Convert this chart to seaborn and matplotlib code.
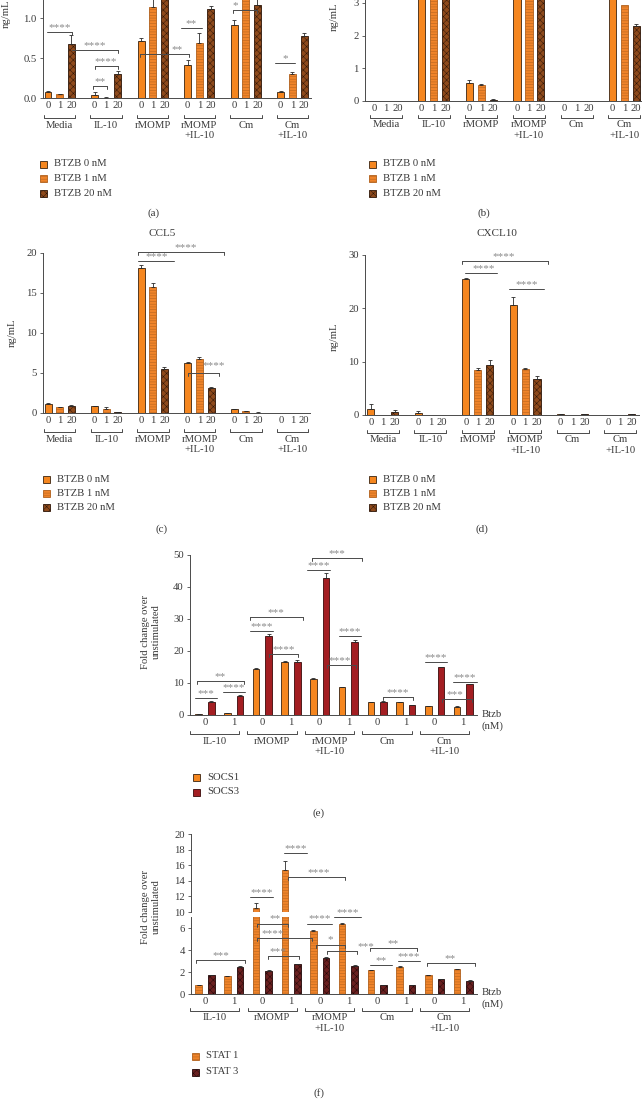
import numpy as np
import pandas as pd
import matplotlib
matplotlib.use('Agg')
import matplotlib.pyplot as plt
import matplotlib.transforms as mtransforms
from matplotlib.patches import Rectangle
import seaborn as sns

# -------------------------------
# Data
# -------------------------------
groups6 = ['Media', 'IL-10', 'rMOMP', 'rMOMP\n+IL-10', 'Cm', 'Cm\n+IL-10']
doses = ['0', '1', '20']
dose_names = ['BTZB 0 nM', 'BTZB 1 nM', 'BTZB 20 nM']

# (a) - top of panel is cropped in the original
a_0nM = [0.08, 0.04, 0.715, 0.415, 0.91, 0.075]
a_1nM = [0.045, 0.005, 1.14, 0.69, 1.35, 0.30]
a_20nM = [0.67, 0.295, 1.30, 1.11, 1.16, 0.78]
a_err0 = [0.01, 0.035, 0.03, 0.06, 0.07, 0.008]
a_err1 = [0.005, 0.005, 0.10, 0.12, 0.05, 0.03]
a_err20 = [0.12, 0.04, 0.05, 0.04, 0.10, 0.03]

# (b) - top cropped as well
b_0nM = [0.0, 5.0, 0.55, 5.2, 0.01, 3.6]
b_1nM = [0.0, 4.8, 0.48, 5.0, 0.0, 2.95]
b_20nM = [0.0, 4.6, 0.03, 4.9, 0.0, 2.28]
b_err0 = [0, 0.1, 0.1, 0.1, 0, 0.1]
b_err1 = [0, 0.1, 0.04, 0.1, 0, 0]
b_err20 = [0, 0.1, 0.02, 0.1, 0, 0.08]

# (c) CCL5
c_0nM = [1.1, 0.85, 18.1, 6.3, 0.45, 0.05]
c_1nM = [0.75, 0.55, 15.8, 6.7, 0.2, 0.05]
c_20nM = [0.85, 0.1, 5.5, 3.1, 0.05, 0.05]
c_err0 = [0.1, 0.05, 0.4, 0.1, 0.05, 0]
c_err1 = [0.05, 0.25, 0.5, 0.3, 0.03, 0]
c_err20 = [0.15, 0.05, 0.2, 0.1, 0.02, 0]

# (d) CXCL10
d_0nM = [1.2, 0.3, 25.5, 20.7, 0.15, 0.0]
d_1nM = [0.0, 0.0, 8.5, 8.7, 0.0, 0.0]
d_20nM = [0.5, 0.0, 9.4, 6.8, 0.15, 0.1]
d_err0 = [0.9, 0.4, 0.2, 1.4, 0.05, 0]
d_err1 = [0, 0, 0.3, 0.2, 0, 0]
d_err20 = [0.5, 0, 1.0, 0.5, 0.05, 0.05]

# (e) / (f)
groups5 = ['IL-10', 'rMOMP', 'rMOMP\n+IL-10', 'Cm', 'Cm\n+IL-10']
btzb = ['0', '1']
socs1 = [0.3, 0.6, 14.3, 16.7, 11.4, 8.8, 4.0, 4.0, 2.8, 2.6]
socs1_err = [0.05, 0.1, 0.3, 0.3, 0.3, 0.1, 0.1, 0.1, 0.1, 0.1]
socs3 = [4.2, 6.0, 24.7, 16.6, 42.8, 22.7, 4.2, 3.1, 14.9, 9.6]
socs3_err = [0.2, 0.2, 0.6, 0.5, 1.5, 0.6, 0.2, 0.1, 0.2, 0.2]
stat1 = [0.8, 1.6, 10.5, 15.4, 5.7, 6.4, 2.15, 2.5, 1.7, 2.25]
stat1_err = [0.05, 0.05, 0.7, 1.2, 0.15, 0.08, 0.05, 0.05, 0.05, 0.05]
stat3 = [1.7, 2.5, 2.1, 2.7, 3.3, 2.55, 0.8, 0.8, 1.35, 1.2]
stat3_err = [0.05, 0.05, 0.05, 0.05, 0.05, 0.05, 0.03, 0.03, 0.03, 0.03]

# significance marks: (x1, x2, y, label, end ticks, text x, text y)
a_sig = [(-0.1, 2.06, 0.82, '****', 'r', None, None),
         (2.06, 6.0, 0.60, '****', 'r', 4.0, None),
         (4.0, 6.0, 0.40, '****', 'lr', None, None),
         (3.86, 5.06, 0.15, '**', 'lr', None, None),
         (7.9, 12.1, 0.55, '**', 'lr', 11.1, None),
         (11.4, 13.2, 0.87, '**', '', None, None),
         (15.9, 18.0, 1.10, '*', 'lr', 16.1, None),
         (19.5, 21.2, 0.44, '*', '', None, None)]
c_sig = [(7.7, 15.1, 20.1, '****', 'lr', 11.8, None),
         (7.7, 10.8, 19.0, '****', '', 9.3, None),
         (12.0, 14.7, 5.0, '****', 'lr', 14.2, 5.4)]
d_sig = [(7.7, 14.9, 28.9, '****', 'lr', 11.2, None),
         (7.9, 10.6, 26.6, '****', '', 9.5, None),
         (11.6, 14.6, 23.6, '****', '', 13.1, None)]
e_sig = [(-0.35, 0.42, 5.3, '***', '', None, None),
         (0.63, 1.39, 7.2, '****', '', None, None),
         (-0.28, 1.36, 10.6, '**', 'lr', None, None),
         (1.57, 2.37, 26.3, '****', '', None, None),
         (1.57, 3.41, 30.6, '***', 'lr', None, None),
         (2.23, 3.24, 19.0, '****', 'lr', None, None),
         (3.55, 4.36, 45.3, '****', '', None, None),
         (3.73, 5.47, 49.0, '***', 'lr', None, None),
         (4.67, 5.44, 24.7, '****', '', None, None),
         (4.25, 5.26, 15.6, '****', 'lr', 4.7, None),
         (6.2, 7.25, 5.6, '****', 'lr', None, None),
         (7.67, 8.43, 16.6, '****', '', None, None),
         (8.64, 9.48, 10.3, '****', '', None, None),
         (8.26, 9.3, 5.0, '***', 'lr', 8.71, None)]
fu_sig = [(1.57, 2.37, 11.9, '****', '', None, None),
          (2.75, 3.55, 17.6, '****', '', None, None),
          (2.89, 4.88, 14.5, '****', 'lr', 3.97, None)]
fl_sig = [(-0.31, 1.39, 3.1, '***', 'lr', None, None),
          (1.81, 2.89, 6.4, '**', 'lr', 2.44, None),
          (1.81, 3.73, 5.1, '****', 'lr', 2.37, None),
          (2.2, 3.28, 3.45, '***', 'lr', 2.54, None),
          (3.55, 4.42, 6.4, '****', '', None, None),
          (4.49, 5.44, 7.0, '****', '', None, None),
          (3.87, 4.88, 4.5, '*', 'lr', 4.36, None),
          (4.25, 5.3, 3.9, '***', 'lr', 5.6, None),
          (5.75, 7.39, 4.2, '**', 'lr', 6.55, None),
          (5.75, 6.52, 2.6, '**', '', None, None),
          (6.72, 7.49, 3.0, '****', '', None, None),
          (7.74, 9.41, 2.8, '**', 'lr', 8.54, None)]

# -------------------------------
# Style
# -------------------------------
sns.set_style('ticks')
plt.rcParams['font.family'] = ['Liberation Serif', 'DejaVu Serif']
plt.rcParams['hatch.linewidth'] = 0.35

FS = 7.7
ORANGE = '#F5861F'
TXT = '#3a3a3a'
LINE = '#4a4a4a'
SIGC = '#8a8a8a'
dose_style = {'0': (ORANGE, '', '#3a2410'),
              '1': ('#F0842A', '------', '#B0601C'),
              '20': ('#8E4A1C', 'xxxxx', '#2e1608')}
socs_style = {'SOCS1': (ORANGE, '', '#3a2410'),
              'SOCS3': ('#A31E22', '', '#3a0a0a')}
stat_style = {'STAT 1': ('#F0842A', '------', '#B0601C'),
              'STAT 3': ('#6A2020', 'xxxxx', '#220808')}

W, H = 644, 1099
fig = plt.figure(figsize=(W / 100, H / 100), dpi=100)


def add_ax(x0, y0, x1, y1):
    return fig.add_axes([x0 / W, 1 - y1 / H, (x1 - x0) / W, (y1 - y0) / H])


def ftext(x, y, s, **kw):
    kw.setdefault('fontsize', FS)
    kw.setdefault('color', TXT)
    return fig.text(x / W, 1 - y / H, s, **kw)


def draw_bars(ax, pos, vals, errs, series, styles, bar_w):
    order = list(styles.keys())
    df = pd.DataFrame({'pos': pos, 'val': vals, 'series': series})
    step = np.min(np.diff(np.unique(df['pos'])))
    sns.barplot(data=df, x='pos', y='val', hue='series', hue_order=order,
                palette={k: styles[k][0] for k in order}, native_scale=True,
                dodge=False, width=bar_w / step, errorbar=None, saturation=1,
                legend=False, ax=ax)
    for cont, k in zip(ax.containers, order):
        face, hatch, edge = styles[k]
        for bar in cont:
            bar.set_hatch(hatch)
            bar.set_edgecolor(edge)
            bar.set_linewidth(0.6)
    p, v, e = np.asarray(pos, float), np.asarray(vals, float), np.asarray(errs, float)
    m = e > 0
    ax.errorbar(p[m], v[m], yerr=[np.zeros(m.sum()), e[m]], fmt='none',
                ecolor='#2a2a2a', elinewidth=0.6, capsize=1.5, capthick=0.6)


def style_ax(ax, xlim, ylim, yticks, ylabels=None, bottom=True):
    ax.set_xlim(*xlim)
    ax.set_ylim(*ylim)
    ax.set_yticks(yticks)
    if ylabels is not None:
        ax.set_yticklabels(ylabels)
    ax.spines['top'].set_visible(False)
    ax.spines['right'].set_visible(False)
    ax.spines['left'].set(color=LINE, linewidth=0.7)
    ax.spines['bottom'].set(color=LINE, linewidth=0.7, visible=bottom)
    ax.tick_params(axis='y', direction='out', length=2.5, width=0.6, color=LINE,
                   labelsize=FS, labelcolor=TXT, pad=2)
    ax.tick_params(axis='x', length=0, labelsize=FS, labelcolor=TXT, pad=2)
    ax.set_xlabel('')
    ax.set_ylabel('')
    ax.patch.set_alpha(0)


def group_bracket(ax, x1, x2, name, xname, drop):
    h = ax.bbox.height
    tr = mtransforms.blended_transform_factory(ax.transData, ax.transAxes)
    yb = -drop / h
    t = 3 / h
    ax.plot([x1, x1, x2, x2], [yb + t, yb, yb, yb + t], transform=tr,
            clip_on=False, color=LINE, lw=0.7)
    ax.text(xname, yb - 2.5 / h, name, transform=tr, ha='center', va='top',
            fontsize=FS, color=TXT, linespacing=1.25)


def sig_marks(ax, marks):
    y0, y1 = ax.get_ylim()
    dy = 3 * (y1 - y0) / ax.bbox.height
    for x1, x2, y, lab, ends, tx, ty in marks:
        ax.plot([x1, x2], [y, y], color=LINE, lw=0.7, clip_on=False)
        if 'l' in ends:
            ax.plot([x1, x1], [y, y - dy], color=LINE, lw=0.7, clip_on=False)
        if 'r' in ends:
            ax.plot([x2, x2], [y, y - dy], color=LINE, lw=0.7, clip_on=False)
        ax.text((x1 + x2) / 2 if tx is None else tx, y if ty is None else ty, lab,
                ha='center', va='bottom', fontsize=8, color=SIGC, clip_on=False)


def legend(x, ys, names, styles):
    for y, name, st in zip(ys, names, styles.values()):
        face, hatch, edge = st
        fig.add_artist(Rectangle((x / W, 1 - (y + 3.5) / H), 7 / W, 7 / H,
                                 transform=fig.transFigure, facecolor=face,
                                 hatch=hatch, edgecolor=edge, linewidth=0.6))
        ftext(x + 14, y, name, va='center')


def three_dose_panel(rect, xlim, ylim, yticks, ylabels, v0, v1, v20, e0, e1, e20, drop):
    ax = add_ax(*rect)
    pos, vals, errs, ser = [], [], [], []
    for i in range(len(groups6)):
        for j, (vv, ee) in enumerate([(v0, e0), (v1, e1), (v20, e20)]):
            pos.append(4 * i + j)
            vals.append(vv[i])
            errs.append(ee[i])
            ser.append(doses[j])
    draw_bars(ax, pos, vals, errs, ser, dose_style, 0.6)
    style_ax(ax, xlim, ylim, yticks, ylabels)
    ax.set_xticks(pos)
    ax.set_xticklabels([doses[p % 4] for p in pos])
    for i, g in enumerate(groups6):
        group_bracket(ax, 4 * i - 0.35, 4 * i + 2.35, g, 4 * i + 1, drop)
    return ax


# -------------------------------
# (a) and (b)
# -------------------------------
ax_a = three_dose_panel((43, 0, 311, 98), (-0.43, 22.6), (0, 1.225), [0, 0.5, 1.0],
                        ['0.0', '0.5', '1.0'], a_0nM, a_1nM, a_20nM,
                        a_err0, a_err1, a_err20, 20)
sig_marks(ax_a, a_sig)
ftext(6, 14, 'ng/mL', rotation=90, ha='center', va='center')
legend(40, [164, 178.5, 193], dose_names, dose_style)
ftext(154, 213, '(a)', ha='center', va='center', fontsize=8)

ax_b = three_dose_panel((365, 0, 641, 101), (-0.76, 22.4), (0, 3.09), [0, 1, 2, 3],
                        None, b_0nM, b_1nM, b_20nM, b_err0, b_err1, b_err20, 17)
ftext(334, 17, 'ng/mL', rotation=90, ha='center', va='center')
legend(369, [164, 178.5, 193], dose_names, dose_style)
ftext(484, 213, '(b)', ha='center', va='center', fontsize=8)

# -------------------------------
# (c) and (d)
# -------------------------------
ax_c = three_dose_panel((43, 253, 310, 413), (-0.43, 22.5), (0, 20), [0, 5, 10, 15, 20],
                        None, c_0nM, c_1nM, c_20nM, c_err0, c_err1, c_err20, 19)
sig_marks(ax_c, c_sig)
ftext(162, 233, 'CCL5', ha='center', va='center', fontsize=8)
ftext(12, 333, 'ng/mL', rotation=90, ha='center', va='center')
legend(43, [479, 493, 507], dose_names, dose_style)
ftext(162, 529, '(c)', ha='center', va='center', fontsize=8)

ax_d = three_dose_panel((365, 255, 639, 415), (-0.5, 22.6), (0, 30), [0, 10, 20, 30],
                        None, d_0nM, d_1nM, d_20nM, d_err0, d_err1, d_err20, 18)
sig_marks(ax_d, d_sig)
ftext(497, 233, 'CXCL10', ha='center', va='center', fontsize=8)
ftext(334, 337, 'ng/mL', rotation=90, ha='center', va='center')
legend(369, [479, 493, 507], dose_names, dose_style)
ftext(482, 529, '(d)', ha='center', va='center', fontsize=8)


# -------------------------------
# (e) SOCS and (f) STAT
# -------------------------------
def two_series_pos(v_a, v_b, e_a, e_b, names):
    pos, vals, errs, ser = [], [], [], []
    for k in range(len(v_a)):
        pos += [k - 0.22, k + 0.22]
        vals += [v_a[k], v_b[k]]
        errs += [e_a[k], e_b[k]]
        ser += names
    return pos, vals, errs, ser


def gene_xaxis(ax, drop):
    ks = list(range(2 * len(groups5)))
    ax.set_xticks(ks)
    ax.set_xticklabels([btzb[k % 2] for k in ks])
    for i, g in enumerate(groups5):
        group_bracket(ax, 2 * i - 0.52, 2 * i + 1.2, g, 2 * i + 0.34, drop)


ax_e = add_ax(190, 555, 477, 715)
draw_bars(ax_e, *two_series_pos(socs1, socs3, socs1_err, socs3_err, ['SOCS1', 'SOCS3']),
          socs_style, 0.23)
style_ax(ax_e, (-0.52, 9.48), (0, 50), [0, 10, 20, 30, 40, 50])
gene_xaxis(ax_e, 19)
sig_marks(ax_e, e_sig)
ftext(151, 632, 'Fold change over\nunstimulated', rotation=90, ha='center', va='center',
      linespacing=1.2)
ftext(482, 710, 'Btzb\n(nM)', ha='left', va='top', linespacing=1.3)
legend(193, [777, 792], ['SOCS1', 'SOCS3'], socs_style)
ftext(319, 813, '(e)', ha='center', va='center', fontsize=8)

f_data = two_series_pos(stat1, stat3, stat1_err, stat3_err, ['STAT 1', 'STAT 3'])
ax_fu = add_ax(191, 834, 477, 912)
draw_bars(ax_fu, *f_data, stat_style, 0.23)
style_ax(ax_fu, (-0.49, 9.48), (10, 20), [10, 12, 14, 16, 18, 20], bottom=False)
ax_fu.set_xticks([])
sig_marks(ax_fu, fu_sig)

ax_fl = add_ax(191, 917, 477, 994)
draw_bars(ax_fl, *f_data, stat_style, 0.23)
style_ax(ax_fl, (-0.49, 9.48), (0, 7), [0, 2, 4, 6])
gene_xaxis(ax_fl, 17)
sig_marks(ax_fl, fl_sig)
ftext(151, 907, 'Fold change over\nunstimulated', rotation=90, ha='center', va='center',
      linespacing=1.2)
ftext(482, 988, 'Btzb\n(nM)', ha='left', va='top', linespacing=1.3)
legend(192, [1056, 1072], ['STAT 1', 'STAT 3'], stat_style)
ftext(319, 1093, '(f)', ha='center', va='center', fontsize=8)

fig.savefig('out.png', dpi=100, facecolor='white')
